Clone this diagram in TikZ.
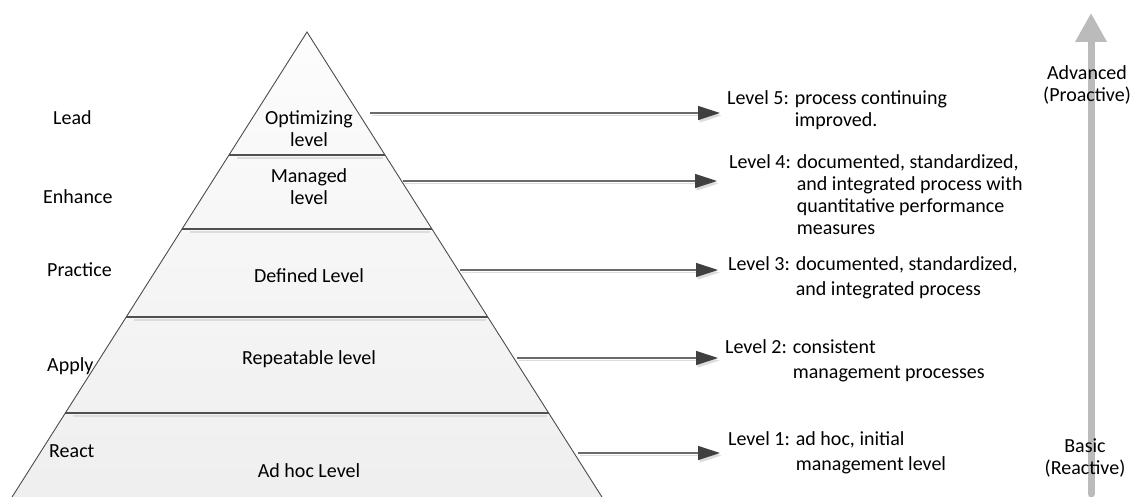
\documentclass[tikz,border=0pt]{standalone}
\usepackage{fontspec}
\setmainfont{Carlito}
\usepackage{tikz}
\usetikzlibrary{arrows.meta, positioning}
\definecolor{edgegray}{HTML}{505050}
\definecolor{linegray}{HTML}{6A6A6A}
\definecolor{shadowgray}{HTML}{DCDCDC}
\definecolor{headgray}{HTML}{404040}
\definecolor{scalegray}{HTML}{BBBBBB}
\tikzstyle{lbl} = [font=\fontsize{20}{22}\selectfont, inner sep=0pt]
\tikzstyle{side} = [lbl, anchor=base west]
\tikzstyle{layer} = [lbl, align=center, anchor=base]
\tikzstyle{desc} = [lbl, anchor=base west]
\tikzstyle{scalelabel} = [lbl, align=center, anchor=base]
\tikzstyle{edge} = [draw=edgegray, line width=0.9pt]
\tikzstyle{divider} = [draw=edgegray, line width=1.1pt]
\tikzstyle{divshadow} = [draw=shadowgray, line width=1.6pt]
\tikzstyle{levelarrow} = [draw=linegray, line width=1.2pt, -{Triangle[length=22pt,width=14pt,color=headgray]}]
\tikzstyle{arrowshadow} = [draw=shadowgray, line width=1.6pt, -{Triangle[length=22pt,width=14pt]}]
\tikzstyle{scalearrow} = [draw=scalegray, line width=7pt, line cap=round, -{Triangle[length=29pt,width=30pt]}]

\begin{document}
\begin{tikzpicture}[x=1pt, y=-1pt]
\useasboundingbox (0,0) rectangle (1136,497);
\clip (0,0) rectangle (1136,497);

% pyramid
\coordinate (apex) at (307,32);
\coordinate (bl) at (7,505);
\coordinate (br) at (607,505);
\fill[top color=gray!2, bottom color=gray!13] (apex) -- (bl) -- (br) -- cycle;
\foreach \y in {155,229,317,413} {
  \draw[divshadow] ({307-0.634*(\y-32)+8},{\y+3}) -- ({307+0.634*(\y-32)-2},{\y+3});
  \draw[divider] ({307-0.634*(\y-32)},\y) -- ({307+0.634*(\y-32)},\y);
}
\draw[edge] (bl) -- (apex) -- (br);

% levels inside the pyramid (base = last line)
\node (optimizing) [layer] at (309,147) {Optimizing\\level};
\node (managed) [layer] at (309,205) {Managed\\level};
\node (defined) [layer] at (309,283) {Defined Level};
\node (repeatable) [layer] at (309,364) {Repeatable level};
\node (adhoc) [layer] at (309,477) {Ad hoc Level};

% left labels
\node (lead) [side] at (53,125) {Lead};
\node (enhance) [side] at (43,204) {Enhance};
\node (practice) [side] at (47,277) {Practice};
\node (apply) [side] at (47,371) {Apply};
\node (react) [side] at (49,457) {React};

% descriptions
\node (lvl5) [desc] at (727,105) {\begin{tabular}[t]{@{}l@{ }l@{}}Level 5: & process continuing\\ & improved.\end{tabular}};
\node (lvl4) [desc] at (729,169) {\begin{tabular}[t]{@{}l@{ }l@{}}Level 4: & documented, standardized,\\ & and integrated process with\\ & quantitative performance\\ & measures\end{tabular}};
\node (lvl3) [desc] at (728,271) {\begin{tabular}[t]{@{}l@{ }l@{}}Level 3: & documented, standardized,\\[3pt] & and integrated process\end{tabular}};
\node (lvl2) [desc] at (725,353) {\begin{tabular}[t]{@{}l@{ }l@{}}Level 2: & consistent\\[3pt] & management processes\end{tabular}};
\node (lvl1) [desc] at (728,445) {\begin{tabular}[t]{@{}l@{ }l@{}}Level 1: & ad hoc, initial\\[3pt] & management level\end{tabular}};

% arrows
\coordinate (s5) at (370,113); \coordinate (e5) at (720,113);
\coordinate (s4) at (403,181); \coordinate (e4) at (717,181);
\coordinate (s3) at (460,270); \coordinate (e3) at (718,270);
\coordinate (s2) at (517,358); \coordinate (e2) at (718,358);
\coordinate (s1) at (578,453); \coordinate (e1) at (720,453);
\foreach \n in {1,...,5} {
  \draw[arrowshadow] ([shift={(1.5,2.5)}]s\n) -- ([shift={(1.5,2.5)}]e\n);
  \draw[levelarrow] (s\n) -- (e\n);
}

% maturity scale
\coordinate (low) at (1091,494);
\coordinate (high) at (1091,13);
\draw[scalearrow] (low) -- (high);
\node (advanced) [scalelabel] at (1087,102) {Advanced\\(Proactive)};
\node (basic) [scalelabel] at (1085,474) {Basic\\(Reactive)};
\end{tikzpicture}
\end{document}
